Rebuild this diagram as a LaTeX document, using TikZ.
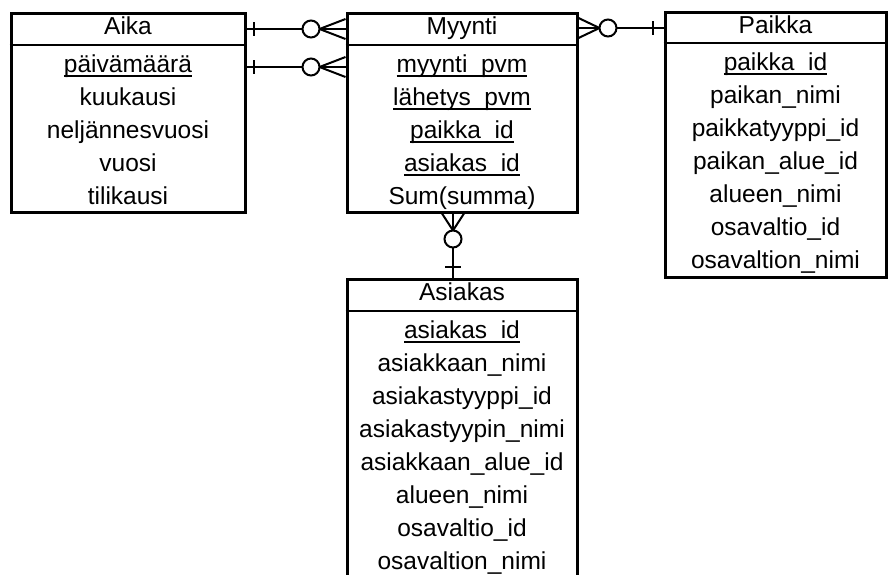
\documentclass[tikz,border=0pt]{standalone}
\usepackage{fontspec}
\setmainfont{Liberation Sans}
\usetikzlibrary{calc}
\newsavebox\keybox
% key attribute: underlined at the height of the underscore
\newcommand\keyfield[1]{\sbox\keybox{#1}\rlap{\rule[-0.2em]{\wd\keybox}{0.075em}}\usebox\keybox}
\begin{document}
\begin{tikzpicture}[x=0.5pt,y=-0.5pt,
  every node/.style={font=\fontsize{12.25}{14}\selectfont},
  entity/.style={draw, line width=1.5pt, inner sep=0pt},
  field/.style={inner sep=0pt, text height=0.72em, text depth=0.22em, anchor=center},
  hdrline/.style={line width=1pt},
  conn/.style={line width=1pt},
  ring/.style={line width=1pt, fill=white}]
\useasboundingbox (0,0) rectangle (888,574);

% entity frames
\node[entity, minimum width=117pt, minimum height=99.5pt] (aika) at (128,112.5) {};
\node[entity, minimum width=115pt, minimum height=99.5pt] (myynti) at (462,112.5) {};
\node[entity, minimum width=110.5pt, minimum height=132.5pt] (paikka) at (775.5,144.5) {};
\node[entity, minimum width=115pt, minimum height=160.5pt] (asiakas) at (462,439.5) {};

% header separators
\draw[hdrline] (aika.west |- 0,45) -- (aika.east |- 0,45);
\draw[hdrline] (myynti.west |- 0,45) -- (myynti.east |- 0,45);
\draw[hdrline] (paikka.west |- 0,43) -- (paikka.east |- 0,43);
\draw[hdrline] (asiakas.west |- 0,311) -- (asiakas.east |- 0,311);

% titles
\node[field] (aikaH) at (128,29) {Aika};
\node[field] (myyntiH) at (462,29) {Myynti};
\node[field] (paikkaH) at (775.5,28) {Paikka};
\node[field] (asiakasH) at (462,295) {Asiakas};

% attributes
\foreach \t [count=\i from 0] in {\keyfield{päivämäärä},kuukausi,neljännesvuosi,vuosi,tilikausi}
  \node[field] (aika\i) at (128,67+33*\i) {\t};
\foreach \t [count=\i from 0] in {\keyfield{myynti\_pvm},\keyfield{lähetys\_pvm},\keyfield{paikka\_id},\keyfield{asiakas\_id},Sum(summa)}
  \node[field] (myynti\i) at (462,67+33*\i) {\t};
\foreach \t [count=\i from 0] in {\keyfield{paikka\_id},paikan\_nimi,paikkatyyppi\_id,paikan\_alue\_id,alueen\_nimi,osavaltio\_id,osavaltion\_nimi}
  \node[field] (paikka\i) at (775.5,65+33*\i) {\t};
\foreach \t [count=\i from 0] in {\keyfield{asiakas\_id},asiakkaan\_nimi,asiakastyyppi\_id,asiakastyypin\_nimi,asiakkaan\_alue\_id,alueen\_nimi,osavaltio\_id,osavaltion\_nimi}
  \node[field] (asiakas\i) at (462,333+33*\i) {\t};

% Aika -- Myynti (two relationships)
\foreach \r in {aikaH,aika0} {
  \coordinate (a) at (aika.east |- \r);
  \coordinate (b) at (myynti.west |- \r);
  \draw[conn] (a) -- (b);
  \draw[conn] ($(a)+(7,-7)$) -- ($(a)+(7,7)$);
  \draw[conn] ($(b)+(0,-10)$) -- ($(b)+(-26,0)$) -- ($(b)+(0,10)$);
  \draw[ring] ($(b)+(-34.5,0)$) circle[radius=4.25pt];
}

% Myynti -- Paikka
\coordinate (mp1) at (myynti.east |- paikkaH);
\coordinate (mp2) at (paikka.west |- paikkaH);
\draw[conn] (mp1) -- (mp2);
\draw[conn] ($(mp2)+(-11,-7)$) -- ($(mp2)+(-11,7)$);
\draw[conn] ($(mp1)+(0,-10)$) -- ($(mp1)+(21,0)$) -- ($(mp1)+(0,10)$);
\draw[ring] ($(mp1)+(29.5,0)$) circle[radius=4.25pt];

% Myynti -- Asiakas
\coordinate (ma1) at ($(myynti.south)+(-9,0)$);
\coordinate (ma2) at (asiakas.north -| ma1);
\draw[conn] (ma1) -- (ma2);
\draw[conn] ($(ma2)+(-8,-11)$) -- ($(ma2)+(8,-11)$);
\draw[conn] ($(ma1)+(-11,0)$) -- ($(ma1)+(0,17)$) -- ($(ma1)+(11,0)$);
\draw[ring] ($(ma1)+(0,25.5)$) circle[radius=4.25pt];
\end{tikzpicture}
\end{document}
